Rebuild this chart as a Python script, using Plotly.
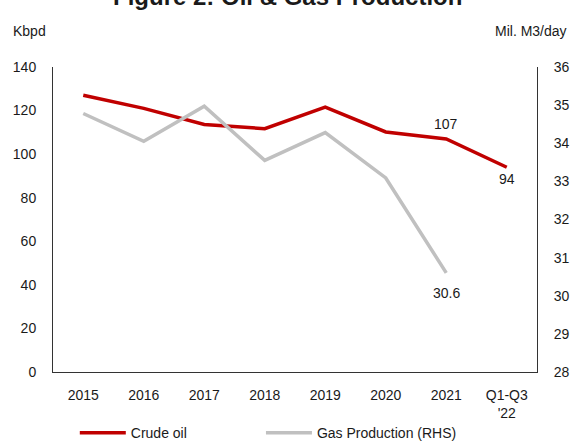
import plotly.graph_objects as go

categories = ["2015", "2016", "2017", "2018", "2019", "2020", "2021", "Q1-Q3<br>'22"]
crude_oil = [127, 121, 113.6, 111.7, 121.6, 110.2, 107, 94]
gas_production = [34.78, 34.05, 34.97, 33.55, 34.28, 33.09, 30.6, None]

oil_color = "#C00000"
gas_color = "#C0C0C0"
font_family = "Liberation Sans, Arial, sans-serif"
text_color = "#1a1a1a"

xpos = list(range(len(categories)))

fig = go.Figure()
fig.add_trace(go.Scatter(x=xpos, y=crude_oil, name="Crude oil", mode="lines",
                         line=dict(color=oil_color, width=3.5), legend="legend"))
fig.add_trace(go.Scatter(x=xpos, y=gas_production, name="Gas Production (RHS)", mode="lines",
                         line=dict(color=gas_color, width=3.5), yaxis="y2", legend="legend2"))

# data labels
fig.add_annotation(x=xpos[6], y=crude_oil[6], text=f"{crude_oil[6]:g}", showarrow=False,
                   yref="y", yshift=15, font=dict(size=14, color=text_color))
fig.add_annotation(x=xpos[7], y=crude_oil[7], text=f"{crude_oil[7]:g}", showarrow=False,
                   yref="y", yshift=-12, font=dict(size=14, color=text_color))
fig.add_annotation(x=xpos[6], y=gas_production[6], text=f"{gas_production[6]:g}", showarrow=False,
                   yref="y2", yshift=-20, font=dict(size=14, color=text_color))

# title (cut off at top) and axis unit labels
fig.add_annotation(x=0.485, y=1.180, xref="paper", yref="paper", xanchor="center", yanchor="bottom",
                   text="<b>Figure 2: Oil & Gas Production</b>", showarrow=False,
                   font=dict(size=24, color=text_color))
fig.add_annotation(x=-0.087, y=1.118, xref="paper", yref="paper", xanchor="left", yanchor="middle",
                   text="Kbpd", showarrow=False, font=dict(size=14, color=text_color))
fig.add_annotation(x=1.066, y=1.118, xref="paper", yref="paper", xanchor="right", yanchor="middle",
                   text="Mil. M3/day", showarrow=False, font=dict(size=14, color=text_color))

legend_common = dict(orientation="h", xref="container", yref="container", y=0.029,
                     xanchor="left", yanchor="middle", itemwidth=46,
                     font=dict(size=14, color=text_color), bgcolor="rgba(0,0,0,0)")

fig.update_layout(
    width=571, height=446,
    margin=dict(l=53, r=34, t=67, b=74),
    paper_bgcolor="white", plot_bgcolor="white",
    font=dict(family=font_family, size=14, color=text_color),
    showlegend=True,
    legend=dict(x=0.131, **legend_common),
    legend2=dict(x=0.457, **legend_common),
    xaxis=dict(range=[-0.5, 7.5], tickvals=xpos, ticktext=categories, showline=True,
               linecolor="#333333", linewidth=1, showgrid=False, zeroline=False, ticks="",
               ticklabelstandoff=10, tickfont=dict(size=14), automargin=False),
    yaxis=dict(range=[0, 140], dtick=20, showline=True, linecolor="#333333", linewidth=1,
               showgrid=False, zeroline=False, ticks="", ticklabelstandoff=13,
               tickfont=dict(size=14), automargin=False),
    yaxis2=dict(range=[28, 36], dtick=1, overlaying="y", side="right", showline=True,
                linecolor="#333333", linewidth=1, showgrid=False, zeroline=False, ticks="",
                ticklabelstandoff=13, tickfont=dict(size=14), automargin=False),
)

fig.write_html("out.html", config={"displayModeBar": False},
               post_script="document.body.style.margin='0';document.body.style.overflow='hidden';")
